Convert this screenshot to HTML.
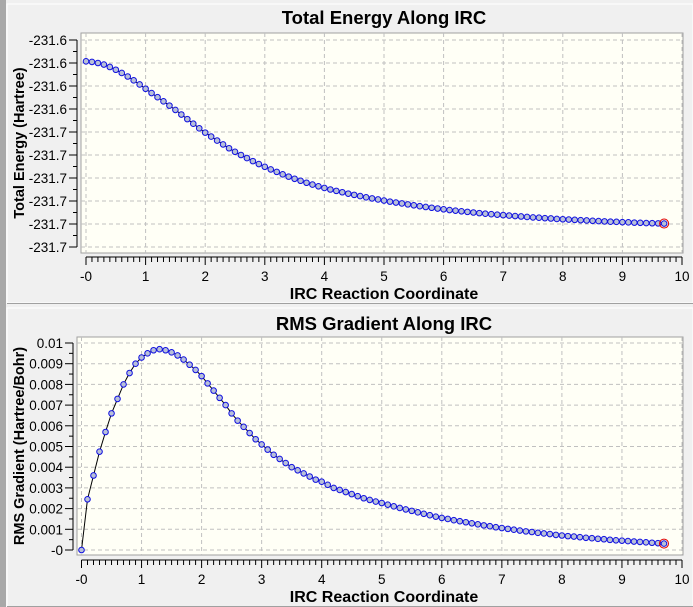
<!DOCTYPE html>
<html><head><meta charset="utf-8"><style>
body{margin:0;background:#f0f0f0;font-family:"Liberation Sans",sans-serif}
svg{display:block}
</style></head><body>
<svg width="693" height="607" xmlns="http://www.w3.org/2000/svg" id="root">
<rect x="0" y="0" width="693" height="607" fill="#f0f0f0"/>
<rect x="0" y="0" width="6" height="607" fill="#a8a8a8"/>
<rect x="7" y="4" width="686" height="299" fill="#f0f0f0" stroke="#fff"/>
<rect x="7" y="308" width="686" height="299" fill="#f0f0f0" stroke="#fff"/>
<line x1="7" y1="303.5" x2="693" y2="303.5" stroke="#a0a0a0"/>
<line x1="7" y1="606.5" x2="693" y2="606.5" stroke="#a0a0a0"/>
<g id="g1"></g><g id="g2"></g>
</svg>
<script>
const NS="http://www.w3.org/2000/svg";
const ircX=[];for(let i=0;i<=97;i++)ircX.push(+(i*0.1).toFixed(1));
// energy offsets below -231.6 Hartree, in mHartree
const energyOffsetmH=[13.9,14.3,15.0,16.0,17.6,19.4,21.5,23.8,26.3,29.0,31.8,34.6,37.3,40.0,42.8,45.6,48.6,51.6,54.6,57.6,60.4,63.0,65.6,68.1,70.6,72.9,75.0,77.0,79.0,80.9,82.7,84.4,86.0,87.6,89.1,90.5,91.8,93.1,94.3,95.4,96.5,97.5,98.4,99.3,100.2,101.0,101.8,102.6,103.3,104.0,104.7,105.4,106.0,106.6,107.2,107.8,108.4,108.9,109.4,109.9,110.4,110.9,111.3,111.7,112.1,112.5,112.9,113.3,113.6,113.9,114.2,114.5,114.8,115.1,115.4,115.7,115.9,116.2,116.4,116.7,116.9,117.1,117.3,117.5,117.7,117.9,118.1,118.3,118.5,118.6,118.8,118.9,119.1,119.2,119.4,119.5,119.6,119.7];
// RMS gradient in 1e-3 Hartree/Bohr
const gradE3=[0,2.45,3.6,4.75,5.7,6.6,7.3,8.0,8.55,9.0,9.3,9.5,9.65,9.7,9.65,9.55,9.4,9.2,8.95,8.7,8.4,8.05,7.7,7.35,7.0,6.6,6.25,5.95,5.65,5.35,5.1,4.85,4.6,4.4,4.2,4.0,3.85,3.7,3.55,3.4,3.3,3.15,3.0,2.9,2.8,2.7,2.6,2.5,2.42,2.34,2.27,2.19,2.11,2.03,1.96,1.89,1.82,1.75,1.68,1.61,1.55,1.5,1.44,1.39,1.34,1.29,1.24,1.19,1.15,1.1,1.06,1.02,0.98,0.94,0.9,0.87,0.83,0.8,0.77,0.73,0.7,0.67,0.65,0.62,0.59,0.57,0.54,0.52,0.49,0.47,0.45,0.43,0.41,0.39,0.37,0.35,0.33,0.31];
const energyTicks=[-231.600,-231.615,-231.630,-231.645,-231.660,-231.675,-231.690,-231.705,-231.720,-231.735];
const energyTickLabels=["-231.6","-231.6","-231.6","-231.6","-231.7","-231.7","-231.7","-231.7","-231.7","-231.7"];
const gradTicks=[0,0.001,0.002,0.003,0.004,0.005,0.006,0.007,0.008,0.009,0.01];
const gradTickLabels=["-0","0.001","0.002","0.003","0.004","0.005","0.006","0.007","0.008","0.009","0.01"];
const xTicks=[0,1,2,3,4,5,6,7,8,9,10];
const xTickLabels=["-0","1","2","3","4","5","6","7","8","9","10"];

function el(t,a,p){const e=document.createElementNS(NS,t);for(const k in a)e.setAttribute(k,a[k]);p.appendChild(e);return e;}
function chart(g,o){
  const sx=v=>o.x0+(v-0)*(o.x10-o.x0)/10;
  const sy=v=>o.yA+(v-o.vA)*(o.yB-o.yA)/(o.vB-o.vA);
  const t=el('text',{x:o.tx,y:o.ty,'text-anchor':'middle','font-size':18.5,'font-weight':'bold',fill:'#000'},g);t.textContent=o.title;
  
  
  const bg=el('rect',{x:o.L,y:o.T,width:o.R-o.L,height:o.B-o.T,fill:'#fffff6',stroke:'#a0a0a0'},g);
  
  
  xTicks.forEach(v=>{const l=el('line',{x1:sx(v),x2:sx(v),y1:o.T,y2:o.B,stroke:'#c0c0c0','stroke-dasharray':'4,3'},g);
    
    });
  o.yt.forEach(v=>{const l=el('line',{x1:o.L,x2:o.R,y1:sy(v),y2:sy(v),stroke:'#c0c0c0','stroke-dasharray':'4,3'},g);
    
    });
  el('line',{x1:o.ax,x2:o.ax,y1:sy(o.yt[0]),y2:sy(o.yt[o.yt.length-1]),stroke:'#000'},g);
  o.yt.forEach((v,i)=>{const y=sy(v);el('line',{x1:o.ax-8,x2:o.ax,y1:y,y2:y,stroke:'#000'},g);
    if(i<o.yt.length-1){const ym=(y+sy(o.yt[i+1]))/2;el('line',{x1:o.ax-4,x2:o.ax,y1:ym,y2:ym,stroke:'#000'},g);}
    const tl=el('text',{x:o.ax-10,y:y+5,'text-anchor':'end','font-size':13.5,fill:'#000'},g);tl.textContent=o.yl[i];
    
    });
  el('line',{x1:sx(0),x2:sx(10),y1:o.ry,y2:o.ry,stroke:'#000'},g);
  for(let i=0;i<=100;i++){const x=sx(i/10);el('line',{x1:x,x2:x,y1:o.ry,y2:o.ry+(i%10==0?8:5),stroke:'#000'},g);}
  xTicks.forEach((v,i)=>{const tl=el('text',{x:sx(v),y:o.ry+24,'text-anchor':'middle','font-size':13.5,fill:'#000'},g);tl.textContent=xTickLabels[i];
    
    });
  const xt=el('text',{x:o.tx,y:o.ry+42,'text-anchor':'middle','font-size':16,'font-weight':'bold',fill:'#000'},g);xt.textContent='IRC Reaction Coordinate';
  
  
  const yc=(o.T+o.B)/2;
  const yt=el('text',{x:0,y:0,transform:`translate(${o.ytx},${yc}) rotate(-90)`,'text-anchor':'middle','font-size':14.5,'font-weight':'bold',fill:'#000'},g);yt.textContent=o.ytitle;
  
  
  const pts=ircX.map((x,i)=>sx(x).toFixed(1)+','+sy(o.vals[i]).toFixed(1)).join(' ');
  const pl=el('polyline',{points:pts,fill:'none',stroke:'#000','stroke-width':1},g);
  
  
  ircX.forEach((x,i)=>{const c=el('circle',{cx:sx(x),cy:sy(o.vals[i]),r:2.8,fill:'#b8c0d8',stroke:'#1010e0','stroke-width':1},g);
    
    });
  const n=ircX.length-1;
  const rc=el('circle',{cx:sx(ircX[n]),cy:sy(o.vals[n]),r:4.5,fill:'none',stroke:'#e00000','stroke-width':1},g);
  
  
}
chart(document.getElementById('g1'),{title:'Total Energy Along IRC',tx:384,ty:24,L:81,R:683,T:33,B:253,x0:86,x10:682,
  yA:40,vA:-231.600,yB:247,vB:-231.735,ax:77,yt:energyTicks,yl:energyTickLabels,ry:257,ytx:24,ytitle:'Total Energy (Hartree)',
  vals:energyOffsetmH.map(v=>-231.6-v/1000)});
chart(document.getElementById('g2'),{title:'RMS Gradient Along IRC',tx:384,ty:330,L:77,R:683,T:337,B:555,x0:81.5,x10:682,
  yA:550,vA:0,yB:343,vB:0.01,ax:73,yt:gradTicks,yl:gradTickLabels,ry:560,ytx:24,ytitle:'RMS Gradient (Hartree/Bohr)',
  vals:gradE3.map(v=>v/1000)});
</script>
</body></html>
